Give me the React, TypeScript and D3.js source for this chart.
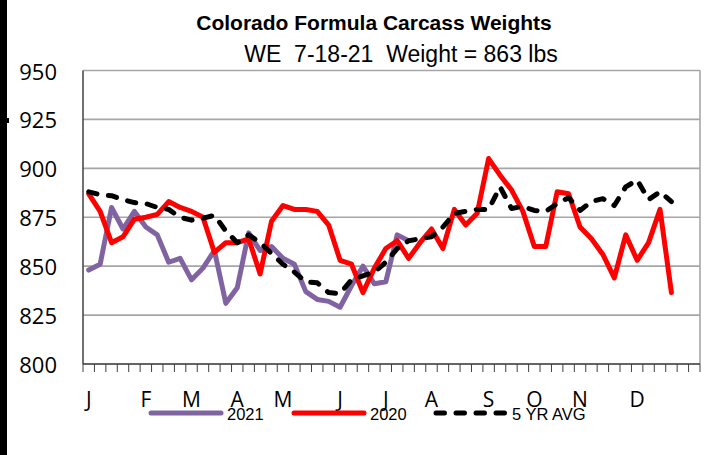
import React from 'react'
import * as d3 from 'd3'

// weekly carcass weights, lbs
const weights2021 = [848, 851, 880, 869, 878, 870, 866, 852, 854, 843, 849, 858, 831, 839, 867, 858, 860, 854, 851, 837, 833, 832, 829, 840, 850, 841, 842, 866, 863]
const weights2020 = [887, 878, 862, 865, 874, 875, 876.5, 883, 880, 878, 875, 857, 862, 862, 864, 846, 873, 881, 879, 879, 878, 871, 853, 851, 836.5, 849, 859, 863, 854, 862, 869, 859, 879, 871, 877, 905, 896.5, 889, 878, 860, 860, 888, 887, 870, 864, 856, 844, 866, 853, 862, 879, 836.5]
const avg5yr = [888, 886.5, 886, 884, 882.5, 882, 880, 879, 875, 873.5, 874.5, 876, 868, 862, 866, 862, 856.5, 851, 847, 842, 841.5, 836.5, 836, 843, 845, 847, 852, 859, 863, 864, 865, 870, 877, 878, 879, 879, 890.5, 879.5, 880.5, 878.5, 878, 882, 885, 878.5, 883, 884.5, 881, 890.5, 894, 884, 888, 883]

const monthLabels = ['J', 'F', 'M', 'A', 'M', 'J', 'J', 'A', 'S', 'O', 'N', 'D']
const monthWeeks = [0, 5, 9, 13, 17, 22, 26, 30, 35, 39, 43, 48]
const yTicks = [800, 825, 850, 875, 900, 925, 950]
const weekCount = 54

const seriesNames = ['2021', '2020', '5 YR AVG']
const seriesColors = ['#8064A2', '#FF0000', '#000000']

const W = 722
const H = 455
const plot = { left: 83, right: 700, top: 70.5, bottom: 364 }

export default function App() {
  const x = d3.scaleBand<number>().domain(d3.range(weekCount)).range([plot.left, plot.right])
  const cx = (i: number) => (x(i) ?? 0) + x.bandwidth() / 2
  const y = d3.scaleLinear().domain([800, 950]).range([plot.bottom, plot.top])

  const line = d3.line<number>().x((_, i) => cx(i)).y((d) => y(d))

  const series = [weights2021, weights2020, avg5yr]
  const dash = [undefined, undefined, '8.5 11.5']

  // tick positions at band edges
  const tickXs = d3.range(weekCount + 1).map((i) => plot.left + i * x.step())

  const legendX = [151, 294, 436]
  const legendLen = 70

  return (
    <svg width={W} height={H} style={{ position: 'absolute', left: 0, top: 0, background: '#fff' }}>
      <rect x={0} y={0} width={7} height={H} fill="#000" />
      <rect x={7} y={118} width={2} height={5} fill="#000" />

      <text x={374} y={30} textAnchor="middle" fontFamily="Liberation Sans, Arial" fontWeight="bold" fontSize={21}>
        Colorado Formula Carcass Weights
      </text>
      <text x={401} y={62} textAnchor="middle" fontFamily="Liberation Sans, Arial" fontSize={23} xmlSpace="preserve">
        {'WE  7-18-21  Weight = 863 lbs'}
      </text>

      {/* gridlines */}
      {yTicks.slice(1).map((t) => (
        <line key={t} x1={plot.left} x2={plot.right} y1={y(t)} y2={y(t)} stroke="#A6A6A6" strokeWidth={1.6} />
      ))}
      <line x1={plot.right} x2={plot.right} y1={plot.top} y2={plot.bottom} stroke="#A6A6A6" strokeWidth={1.6} />
      <line x1={plot.left} x2={plot.left} y1={plot.top} y2={plot.bottom} stroke="#404040" strokeWidth={1.5} />
      <line x1={plot.left} x2={plot.right} y1={plot.bottom} y2={plot.bottom} stroke="#303030" strokeWidth={1.5} />
      {tickXs.map((tx, i) => (
        <line key={i} x1={tx} x2={tx} y1={plot.bottom} y2={plot.bottom + 8} stroke="#404040" strokeWidth={1} />
      ))}

      {yTicks.map((t) => (
        <text key={t} x={57} y={y(t)} textAnchor="end" dominantBaseline="central" fontFamily="Open Sans" fontSize={22}>
          {t}
        </text>
      ))}

      {monthLabels.map((m, i) => (
        <text key={i} x={cx(monthWeeks[i])} y={406.5} textAnchor="middle" fontFamily="Open Sans" fontSize={21}>
          {m}
        </text>
      ))}

      {series.map((s, i) => (
        <path
          key={i}
          d={line(s) ?? ''}
          fill="none"
          stroke={seriesColors[i]}
          strokeWidth={5}
          strokeLinejoin="round"
          strokeLinecap="round"
          strokeDasharray={dash[i]}
        />
      ))}

      {seriesNames.map((name, i) => (
        <g key={name}>
          <line
            x1={legendX[i]}
            x2={legendX[i] + legendLen}
            y1={413}
            y2={413}
            stroke={seriesColors[i]}
            strokeWidth={5}
            strokeLinecap="round"
            strokeDasharray={dash[i]}
          />
          <text x={legendX[i] + legendLen + 6} y={419.5} fontFamily="Liberation Sans, Arial" fontSize={16.5}>
            {name}
          </text>
        </g>
      ))}
    </svg>
  )
}
